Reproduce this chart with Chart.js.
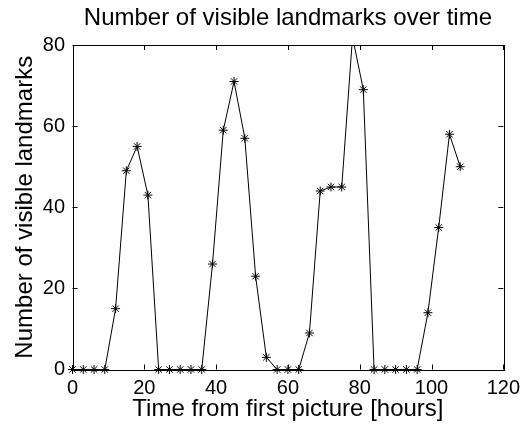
<!DOCTYPE html>
<html>
<head>
<meta charset="utf-8">
<script src="https://cdn.jsdelivr.net/npm/chart.js@4/dist/chart.umd.min.js"></script>
<style>
  html, body { margin: 0; padding: 0; background: #fff; }
  #wrap { width: 527px; height: 425px; }
</style>
</head>
<body>
<div id="wrap"><canvas id="landmarksChart" width="527" height="425"></canvas></div>
<script>
// hours since the first picture, one sample every 3 hours
const hours = [0, 3, 6, 9, 12, 15, 18, 21, 24, 27, 30, 33, 36, 39, 42, 45, 48, 51, 54,
               57, 60, 63, 66, 69, 72, 75, 78, 81, 84, 87, 90, 93, 96, 99, 102, 105, 108];
// landmarks visible in each picture
const landmarks = [0, 0, 0, 0, 15, 49, 55, 43, 0, 0, 0, 0, 0, 26, 59, 71, 57, 23, 3,
                   0, 0, 0, 9, 44, 45, 45, 82, 69, 0, 0, 0, 0, 0, 14, 35, 58, 50];
const xTicks = [0, 20, 40, 60, 80, 100, 120];
const yTicks = [0, 20, 40, 60, 80];

const FONT = "'Liberation Sans', Arial, Helvetica, sans-serif";

// box around the plot with short inward tick marks on all four sides
const boxPlugin = {
    id: 'boxTicks',
    afterDatasetsDraw(chart) {
        const { ctx, chartArea: a, scales } = chart;
        const len = 5;
        ctx.save();
        ctx.strokeStyle = '#000';
        ctx.lineWidth = 1;
        ctx.beginPath();
        xTicks.forEach(v => {
            const px = Math.round(scales.x.getPixelForValue(v)) + 0.5;
            ctx.moveTo(px, a.bottom); ctx.lineTo(px, a.bottom - len);
            ctx.moveTo(px, a.top); ctx.lineTo(px, a.top + len);
        });
        yTicks.forEach(v => {
            const py = Math.round(scales.y.getPixelForValue(v)) + 0.5;
            ctx.moveTo(a.left, py); ctx.lineTo(a.left + len, py);
            ctx.moveTo(a.right, py); ctx.lineTo(a.right - len, py);
        });
        ctx.stroke();
        ctx.strokeRect(Math.round(a.left) + 0.5, Math.round(a.top) + 0.5,
                       Math.round(a.right - a.left), Math.round(a.bottom - a.top));
        ctx.restore();
    }
};

const ctx = document.getElementById('landmarksChart').getContext('2d');
const chart = new Chart(ctx, {
    type: 'line',
    data: {
        datasets: [{
            data: hours.map((h, i) => ({ x: h, y: landmarks[i] })),
            borderColor: '#000',
            borderWidth: 1,
            pointStyle: 'star',
            pointRadius: 4.5,
            pointBorderColor: '#000',
            pointBorderWidth: 1,
            pointBackgroundColor: '#000',
            tension: 0,
            clip: { left: 10, right: 10, top: 0, bottom: 10 }
        }]
    },
    plugins: [boxPlugin],
    options: {
        responsive: false,
        animation: false,
        layout: { padding: { left: 0, right: 19.3, top: 0, bottom: 0 } },
        plugins: {
            legend: { display: false },
            tooltip: { enabled: false },
            title: {
                display: true,
                text: 'Number of visible landmarks over time',
                color: '#000',
                fullSize: false,
                font: { family: FONT, size: 24, weight: 'normal' },
                padding: { top: 4.2, bottom: 12 }
            }
        },
        scales: {
            x: {
                type: 'linear',
                min: 0,
                max: 120,
                afterBuildTicks: s => { s.ticks = xTicks.map(v => ({ value: v })); },
                afterFit: s => { s.height = 55.5; },
                grid: { display: false, drawTicks: false },
                border: { display: false },
                ticks: {
                    color: '#000',
                    padding: 7,
                    maxRotation: 0,
                    font: { family: FONT, size: 20 }
                },
                title: {
                    display: true,
                    text: 'Time from first picture [hours]',
                    color: '#000',
                    font: { family: FONT, size: 24 },
                    padding: { top: 0, bottom: 1.3 }
                }
            },
            y: {
                type: 'linear',
                min: 0,
                max: 80,
                afterBuildTicks: s => { s.ticks = yTicks.map(v => ({ value: v })); },
                afterFit: s => { s.width = 72.5; },
                grid: { display: false, drawTicks: false },
                border: { display: false },
                ticks: {
                    color: '#000',
                    padding: 7.5,
                    font: { family: FONT, size: 20 }
                },
                title: {
                    display: true,
                    text: 'Number of visible landmarks',
                    color: '#000',
                    font: { family: FONT, size: 24 },
                    padding: { top: 10.5, bottom: 0 }
                }
            }
        }
    }
});
</script>
</body>
</html>
